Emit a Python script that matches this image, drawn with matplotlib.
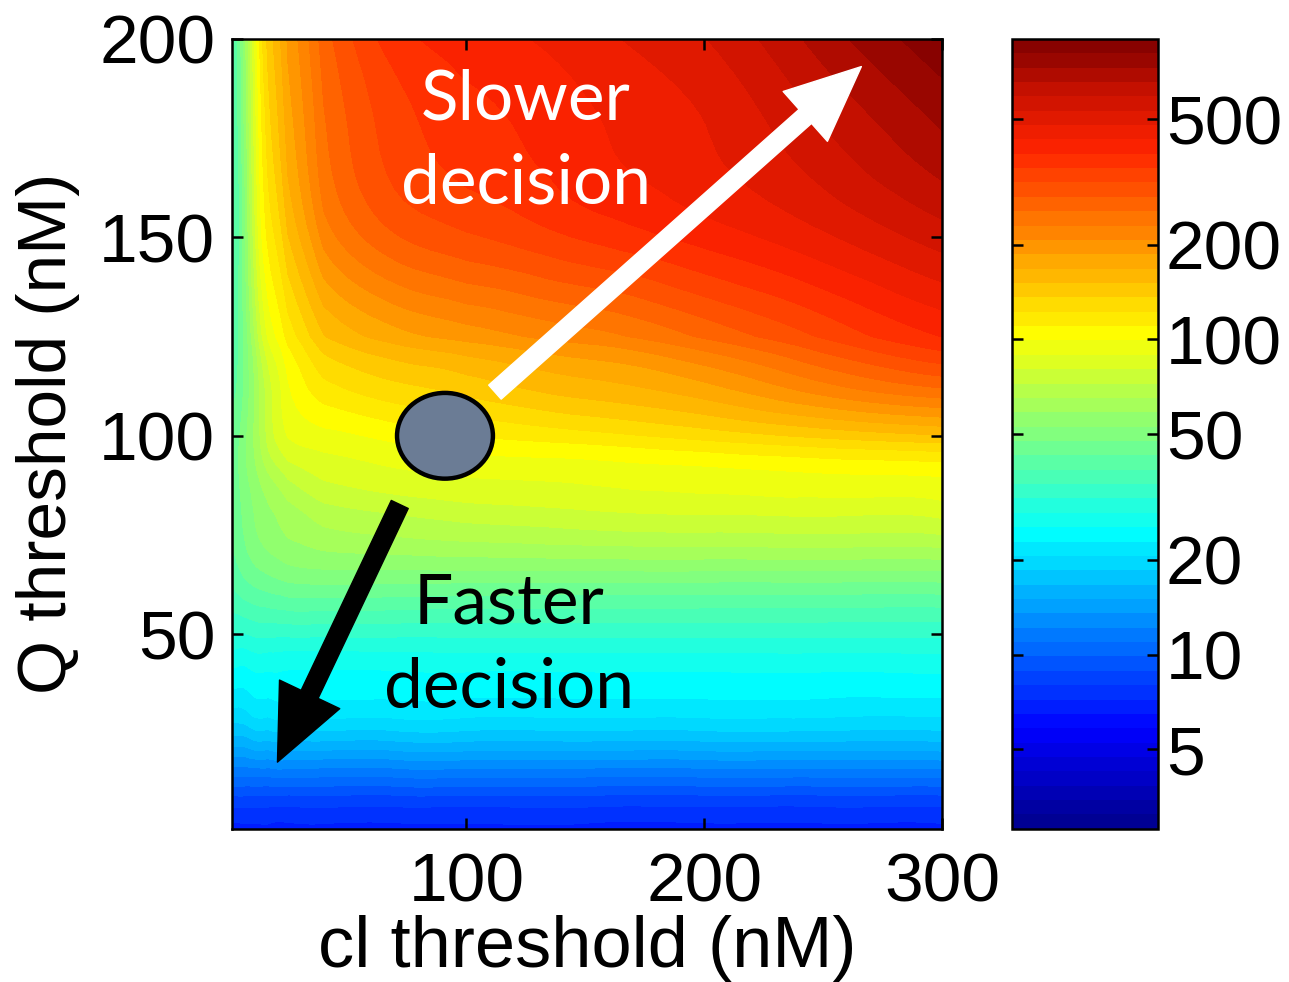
import numpy as np
import matplotlib
matplotlib.use("Agg")
import matplotlib.pyplot as plt
import matplotlib.tri as mtri
from matplotlib.colors import LinearSegmentedColormap
from matplotlib.patches import Ellipse, FancyArrowPatch

# thresholds (nM) where the decision time was sampled
cl_thresh = [1.5, 6, 12, 18, 25, 40, 70, 100, 150, 200, 250, 300]
q_thresh = [1, 12, 25, 37, 50, 65, 80, 90, 100, 112, 125, 150, 175, 200]

# decision time, one row per Q threshold (bottom to top)
decision_time = [
    [7, 7, 7, 7, 7, 7, 7, 7, 7, 7, 7, 7],
    [10, 10, 10, 10, 10, 10, 10, 10, 10, 10, 10, 10],
    [17, 17, 18, 18, 18, 18, 18, 18, 18, 18, 18, 18],
    [23, 23, 24, 24, 24, 24, 24, 24, 24, 24, 24, 24],
    [31, 31, 32, 32, 32, 32, 32, 32, 32, 32, 32, 32],
    [40, 43, 46, 48, 50, 51, 51, 51, 51, 51, 51, 51],
    [44, 48, 54, 58, 62, 68, 72, 75, 78, 80, 81, 82],
    [44, 50, 58, 66, 74, 82, 87, 90, 92, 95, 98, 100],
    [44, 50, 62, 78, 90, 96, 103, 110, 118, 128, 140, 150],
    [42, 47, 62, 80, 98, 118, 132, 142, 160, 180, 220, 255],
    [41, 47, 70, 95, 115, 150, 178, 195, 220, 260, 320, 390],
    [40, 48, 85, 118, 150, 215, 280, 310, 355, 405, 470, 560],
    [40, 50, 92, 135, 175, 250, 330, 370, 420, 475, 580, 720],
    [40, 52, 100, 148, 190, 270, 370, 410, 460, 530, 690, 880],
]

cbar_ticks = [5, 10, 20, 50, 100, 200, 500]
x_ticks = [100, 200, 300]
y_ticks = [50, 100, 150, 200]
vmin, vmax = 2.8, 900

# the operating point and where it moves
op_point = (91, 100)
slow_arrow = ((112, 111), (266, 193))
fast_arrow = ((72, 82.7), (20.6, 17.8))

# MATLAB style jet, reds pulled a little toward orange
jet = LinearSegmentedColormap.from_list(
    "mjet",
    [(0, (0, 0, 0.55)), (0.125, (0, 0, 1)), (0.375, (0, 1, 1)),
     (0.625, (1, 1, 0)), (0.86, (1, 0.14, 0)), (0.93, (0.8, 0.07, 0)),
     (1, (0.5, 0, 0))])

plt.rcParams['font.family'] = ['Liberation Sans', 'DejaVu Sans']

fig = plt.figure(figsize=(12.89, 9.82), dpi=100)
ax = fig.add_axes([0.180, 0.156, 0.551, 0.8045])
cax = fig.add_axes([0.785, 0.156, 0.113, 0.8045])

# smooth the sampled grid (log space) on the index lattice, then map back to nM
ncol, nrow = len(cl_thresh), len(q_thresh)
I, J = np.meshgrid(np.arange(ncol), np.arange(nrow))
logZ = np.log10(np.array(decision_time, dtype=float)).ravel()
tri = mtri.Triangulation(I.ravel().astype(float), J.ravel().astype(float))
interp = mtri.CubicTriInterpolator(tri, logZ, kind='min_E')
tri_f, logz_f = mtri.UniformTriRefiner(tri).refine_field(
    logZ, triinterpolator=interp, subdiv=3)
xf = np.interp(tri_f.x, np.arange(ncol), cl_thresh)
yf = np.interp(tri_f.y, np.arange(nrow), q_thresh)
tri_xy = mtri.Triangulation(xf, yf, tri_f.triangles)

lo, hi = np.log10(vmin), np.log10(vmax)
logz_f = np.clip(logz_f, lo, hi)
levels = np.linspace(lo, hi, 56)
cs = ax.tricontourf(tri_xy, logz_f, levels=levels, cmap=jet, vmin=lo, vmax=hi)

ax.set_xlim(1.5, 300)
ax.set_ylim(1, 200)
ax.set_xticks(x_ticks)
ax.set_yticks(y_ticks)
ax.tick_params(direction='in', length=8, width=1.8, labelsize=50,
               top=True, right=True, pad=12)
ax.tick_params(axis='x', pad=16)
for sp in ax.spines.values():
    sp.set_linewidth(1.8)
ax.set_xlabel("cl threshold (nM)", fontsize=52, labelpad=0)
ax.set_ylabel("Q threshold (nM)", fontsize=50, labelpad=14)

# operating point
ax.add_patch(Ellipse(op_point, 40.3, 21.6, facecolor='#6b7c95',
                     edgecolor='black', lw=3.2, zorder=5))

for (start, end), col in [(slow_arrow, 'white'), (fast_arrow, 'black')]:
    arr = FancyArrowPatch(start, end, mutation_scale=10, shrinkA=0, shrinkB=0,
                          arrowstyle="simple,head_length=5.4,head_width=4.8,tail_width=1.35",
                          color=col, zorder=6)
    ax.add_patch(arr)

ax.text(125, 174, "Slower\ndecision", color='white', fontsize=50,
        family='Lato', ha='center', va='center', linespacing=1.42, zorder=7)
ax.text(118, 47, "Faster\ndecision", color='black', fontsize=50,
        family='Lato', ha='center', va='center', linespacing=1.42, zorder=7)

cb = fig.colorbar(cs, cax=cax)
cb.set_ticks(np.log10(cbar_ticks))
cb.set_ticklabels([str(t) for t in cbar_ticks])
cax.minorticks_off()
cax.tick_params(direction='in', length=8, width=1.8, labelsize=50,
                left=True, right=True, pad=6)
cb.outline.set_linewidth(1.8)

fig.savefig("out.png", dpi=100)
